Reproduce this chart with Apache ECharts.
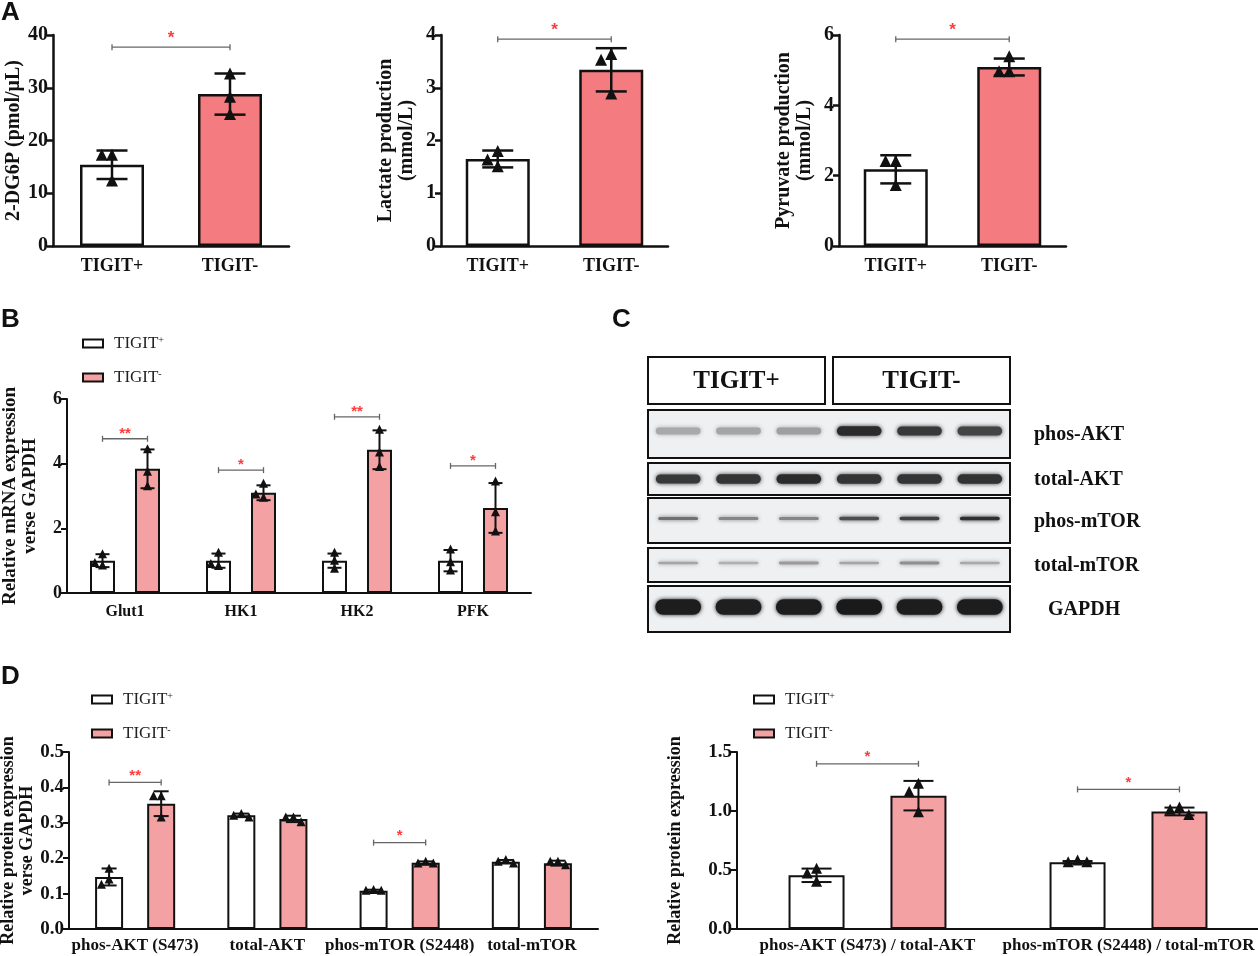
<!DOCTYPE html>
<html>
<head>
<meta charset="utf-8">
<title>TIGIT glycolysis</title>
<script src="https://cdn.jsdelivr.net/npm/echarts@6/dist/echarts.min.js"></script>
<style>
    html, body { margin: 0; padding: 0; background: #fff; }
    #chart { width: 1258px; height: 956px; }
</style>
</head>
<body>
<div id="chart"></div>
<script>
    // ---- data ----
    const groupsA = ['TIGIT+', 'TIGIT-'];
    const dg6pMean = [15.4, 28.8];
    const dg6pSd = [2.7, 3.9];
    const dg6pPts = [[17.2, 17.2, 12.3], [32.6, 28.2, 24.9]];
    const lactateMean = [1.65, 3.34];
    const lactateSd = [0.16, 0.41];
    const lactatePts = [[1.79, 1.63, 1.5], [3.63, 3.52, 2.88]];
    const pyruvateMean = [2.18, 5.09];
    const pyruvateSd = [0.4, 0.24];
    const pyruvatePts = [[2.4, 2.4, 1.72], [5.38, 4.95, 4.95]];
    const sigA = [[37.7, '*'], [3.92, '*'], [5.88, '*']];

    const genes = ['Glut1', 'HK1', 'HK2', 'PFK'];
    const mrnaPosMean = [1.0, 1.0, 1.0, 1.0];
    const mrnaPosSd = [0.2, 0.22, 0.22, 0.33];
    const mrnaPosPts = [[1.2, 0.85, 0.93], [1.25, 0.84, 0.9], [1.25, 0.75, 1.0], [1.35, 0.7, 0.95]];
    const mrnaNegMean = [3.84, 3.1, 4.43, 2.63];
    const mrnaNegSd = [0.6, 0.23, 0.6, 0.77];
    const mrnaNegPts = [[4.45, 3.75, 3.3], [3.38, 2.95, 3.05], [5.05, 3.9, 4.35], [3.45, 2.5, 1.9]];
    const sigB = [[0, 4.77, '**'], [1, 3.8, '*'], [2, 5.45, '**'], [3, 3.93, '*']];

    const blotLanes = ['1', '2', '3', '4', '5', '6'];
    const blotGroups = ['TIGIT+', 'TIGIT-'];
    const blotProteins = ['phos-AKT', 'total-AKT', 'phos-mTOR', 'total-mTOR', 'GAPDH'];
    const bandPhosAkt = [0.28, 0.3, 0.33, 0.88, 0.82, 0.76];
    const bandTotalAkt = [0.82, 0.84, 0.88, 0.84, 0.84, 0.85];
    const bandPhosMtor = [0.55, 0.45, 0.45, 0.72, 0.78, 0.86];
    const bandTotalMtor = [0.3, 0.25, 0.35, 0.3, 0.4, 0.28];
    const bandGapdh = [0.95, 0.94, 0.95, 0.96, 0.95, 0.95];

    const proteinsD = ['phos-AKT (S473)', 'total-AKT', 'phos-mTOR (S2448)', 'total-mTOR'];
    const protPosMean = [0.147, 0.321, 0.108, 0.19];
    const protPosSd = [0.024, 0.005, 0.003, 0.005];
    const protPosPts = [[0.17, 0.14, 0.125], [0.325, 0.32, 0.315], [0.11, 0.108, 0.108], [0.195, 0.19, 0.185]];
    const protNegMean = [0.354, 0.311, 0.187, 0.186];
    const protNegSd = [0.035, 0.009, 0.004, 0.007];
    const protNegPts = [[0.375, 0.375, 0.315], [0.315, 0.315, 0.302], [0.19, 0.185, 0.185], [0.19, 0.19, 0.18]];
    const sigD1 = [[0, 0.414, '**'], [2, 0.244, '*']];

    const ratiosD = ['phos-AKT (S473) / total-AKT', 'phos-mTOR (S2448) / total-mTOR'];
    const ratioPosMean = [0.455, 0.566];
    const ratioPosSd = [0.057, 0.01];
    const ratioPosPts = [[0.51, 0.47, 0.4], [0.58, 0.565, 0.565]];
    const ratioNegMean = [1.13, 0.996];
    const ratioNegSd = [0.125, 0.033];
    const ratioNegPts = [[1.23, 1.16, 0.99], [1.03, 1.01, 0.965]];
    const sigD2 = [[0, 1.40, '*'], [1, 1.183, '*']];

    // ---- styles ----
    const SERIF = '"Liberation Serif", "Times New Roman", serif';
    const SANS = '"Liberation Sans", Arial, sans-serif';
    const INK = '#111';
    const PINK_A = '#f47c80';
    const PINK_B = '#f4a1a3';
    const STAR = '#ff3b3b';

    const grids = [], xAxes = [], yAxes = [], series = [];

    // 误差线 + 三角散点
    function errRender(off, cfg) {
        return function (params, api) {
            const cat = api.value(0), m = api.value(1), sd = api.value(2);
            const x = api.coord([cat, m])[0] + off;
            const yT = api.coord([cat, m + sd])[1], yB = api.coord([cat, m - sd])[1];
            const cw = cfg.capW / 2, s = cfg.tri;
            const ls = { stroke: INK, lineWidth: cfg.lw };
            const kids = [
                { type: 'line', shape: { x1: x, y1: yT, x2: x, y2: yB }, style: ls },
                { type: 'line', shape: { x1: x - cw, y1: yT, x2: x + cw, y2: yT }, style: ls },
                { type: 'line', shape: { x1: x - cw, y1: yB, x2: x + cw, y2: yB }, style: ls }
            ];
            const placed = [];
            for (let j = 3; j < 6; j++) {
                const py = api.coord([cat, api.value(j)])[1];
                const cands = [0, -0.85 * s, 0.85 * s, -1.7 * s, 1.7 * s];
                let dx = 0;
                for (const c of cands) {
                    if (placed.every(p => Math.abs(p[0] - c) >= s * 0.8 || Math.abs(p[1] - py) >= s * 0.8)) { dx = c; break; }
                }
                placed.push([dx, py]);
                const px = x + dx;
                kids.push({
                    type: 'polygon',
                    shape: { points: [[px, py - s * 0.55], [px - s / 2, py + s * 0.45], [px + s / 2, py + s * 0.45]] },
                    style: { fill: INK }
                });
            }
            return { type: 'group', children: kids };
        };
    }

    // 显著性标记
    function sigRender(cfg, sig) {
        return function (params, api) {
            const item = sig[params.dataIndex];
            let x1, x2, y;
            if (cfg.between) {
                x1 = api.coord([0, item[0]])[0];
                x2 = api.coord([1, item[0]])[0];
                y = api.coord([0, item[0]])[1];
            } else {
                const c = api.coord([item[0], item[1]]);
                const off = cfg.bw * (1 + cfg.gap) / 2;
                x1 = c[0] - off; x2 = c[0] + off; y = c[1];
            }
            const label = cfg.between ? item[1] : item[2];
            const ls = { stroke: '#666', lineWidth: 1.3 };
            return {
                type: 'group', children: [
                    { type: 'line', shape: { x1: x1, y1: y, x2: x2, y2: y }, style: ls },
                    { type: 'line', shape: { x1: x1, y1: y - 3, x2: x1, y2: y + 3 }, style: ls },
                    { type: 'line', shape: { x1: x2, y1: y - 3, x2: x2, y2: y + 3 }, style: ls },
                    {
                        type: 'text', style: {
                            text: label, x: (x1 + x2) / 2, y: y - cfg.starDy, align: 'center', verticalAlign: 'middle',
                            font: 'bold ' + cfg.starSize + 'px ' + SANS, fill: STAR
                        }
                    }
                ]
            };
        };
    }

    function addPanel(cfg) {
        const gi = grids.length;
        grids.push({ left: cfg.left, top: cfg.top, width: cfg.width, height: cfg.height, outerBoundsMode: 'none' });
        xAxes.push({
            gridIndex: gi, type: 'category', data: cfg.cats,
            axisLine: { lineStyle: { color: INK, width: cfg.lw } },
            axisTick: { alignWithLabel: true, length: 6, lineStyle: { color: INK, width: cfg.lw } },
            axisLabel: { interval: 0, margin: cfg.xMargin, color: INK, fontFamily: SERIF, fontWeight: 'bold', fontSize: cfg.xFont }
        });
        yAxes.push({
            gridIndex: gi, type: 'value', min: 0, max: cfg.yMax, interval: cfg.yStep,
            axisLine: { show: true, lineStyle: { color: INK, width: cfg.lw } },
            axisTick: { show: true, length: 6, lineStyle: { color: INK, width: cfg.lw } },
            splitLine: { show: false },
            axisLabel: {
                margin: 5, color: INK, fontFamily: SERIF, fontWeight: 'bold', fontSize: cfg.yFont,
                formatter: v => cfg.yDec ? v.toFixed(cfg.yDec) : String(v)
            },
            name: cfg.yName, nameLocation: 'middle', nameGap: cfg.nameGap, nameRotate: 90,
            nameTextStyle: { color: INK, fontFamily: SERIF, fontWeight: 'bold', fontSize: cfg.nameFont, lineHeight: cfg.nameFont + 1 }
        });
        cfg.groups.forEach((g, k) => {
            const off = cfg.groups.length === 1 ? 0 : (k === 0 ? -1 : 1) * cfg.bw * (1 + cfg.gap) / 2;
            series.push({
                type: 'bar', name: g.name, xAxisIndex: gi, yAxisIndex: gi,
                barWidth: cfg.bw, barGap: (cfg.gap * 100) + '%', silent: true,
                itemStyle: { color: g.color, borderColor: INK, borderWidth: cfg.lw },
                data: g.mean.map((m, i) => g.colors ? { value: m, itemStyle: { color: g.colors[i] } } : m)
            });
            series.push({
                type: 'custom', xAxisIndex: gi, yAxisIndex: gi, z: 3, silent: true, clip: false,
                data: g.mean.map((m, i) => [i, m, g.sd[i]].concat(g.pts[i])),
                renderItem: errRender(off, cfg)
            });
        });
        series.push({
            type: 'custom', xAxisIndex: gi, yAxisIndex: gi, z: 3, silent: true, clip: false,
            data: cfg.sig.map(s => cfg.between ? [0, s[0]] : [s[0], s[1]]),
            renderItem: sigRender(cfg, cfg.sig)
        });
    }

    // ---- A ----
    const aStyle = {
        top: 35, height: 211, lw: 2.5, bw: 64, gap: 0, capW: 31, tri: 12, xFont: 18, xMargin: 11,
        yFont: 20, nameFont: 20, starSize: 17, starDy: 9, between: true
    };
    addPanel(Object.assign({}, aStyle, {
        left: 53, width: 236, cats: groupsA, yMax: 40, yStep: 10, yName: '2-DG6P (pmol/μL)', nameGap: 29,
        groups: [{ name: '2-DG6P', mean: dg6pMean, sd: dg6pSd, pts: dg6pPts, color: '#fff', colors: ['#fff', PINK_A] }],
        sig: [sigA[0]]
    }));
    addPanel(Object.assign({}, aStyle, {
        left: 441, width: 227, cats: groupsA, yMax: 4, yStep: 1, yName: 'Lactate production\n(mmol/L)', nameGap: 24,
        groups: [{ name: 'Lactate', mean: lactateMean, sd: lactateSd, pts: lactatePts, color: '#fff', colors: ['#fff', PINK_A] }],
        sig: [sigA[1]]
    }));
    addPanel(Object.assign({}, aStyle, {
        left: 839, width: 227, cats: groupsA, yMax: 6, yStep: 2, yName: 'Pyruvate production\n(mmol/L)', nameGap: 24,
        groups: [{ name: 'Pyruvate', mean: pyruvateMean, sd: pyruvateSd, pts: pyruvatePts, color: '#fff', colors: ['#fff', PINK_A] }],
        sig: [sigA[2]]
    }));

    // ---- B ----
    addPanel({
        left: 67, top: 399, width: 464, height: 194, lw: 2, bw: 25, gap: 0.8, capW: 14, tri: 9,
        xFont: 16, xMargin: 11, yFont: 18, nameFont: 19, starSize: 15, starDy: 5, between: false,
        cats: genes, yMax: 6, yStep: 2, yName: 'Relative mRNA expression\nverse GAPDH', nameGap: 27,
        groups: [
            { name: 'TIGIT+', mean: mrnaPosMean, sd: mrnaPosSd, pts: mrnaPosPts, color: '#fff' },
            { name: 'TIGIT-', mean: mrnaNegMean, sd: mrnaNegSd, pts: mrnaNegPts, color: PINK_B }
        ],
        sig: sigB
    });

    // ---- D ----
    addPanel({
        left: 69, top: 752, width: 529, height: 177, lw: 2, bw: 28, gap: 0.86, capW: 15, tri: 9,
        xFont: 17, xMargin: 8, yFont: 19, nameFont: 18, starSize: 15, starDy: 7, between: false,
        cats: proteinsD, yMax: 0.5, yStep: 0.1, yDec: 1, yName: 'Relative protein expression\nverse GAPDH', nameGap: 28,
        groups: [
            { name: 'TIGIT+', mean: protPosMean, sd: protPosSd, pts: protPosPts, color: '#fff' },
            { name: 'TIGIT-', mean: protNegMean, sd: protNegSd, pts: protNegPts, color: PINK_B }
        ],
        sig: sigD1
    });
    addPanel({
        left: 737, top: 752, width: 522, height: 177, lw: 2, bw: 56, gap: 0.82, capW: 30, tri: 11,
        xFont: 17, xMargin: 8, yFont: 19, nameFont: 18, starSize: 15, starDy: 7, between: false,
        cats: ratiosD, yMax: 1.5, yStep: 0.5, yDec: 1, yName: 'Relative protein expression', nameGap: 52,
        groups: [
            { name: 'TIGIT+', mean: ratioPosMean, sd: ratioPosSd, pts: ratioPosPts, color: '#fff' },
            { name: 'TIGIT-', mean: ratioNegMean, sd: ratioNegSd, pts: ratioNegPts, color: PINK_B }
        ],
        sig: sigD2
    });

    // ---- C: western blot ----
    const BLOT_HEAD = [0, 47];
    const BLOT_ROWS = [[53, 101], [106, 138], [141, 186], [191, 225], [229, 275]];
    const BAND_H = [10, 10, 4, 4, 16];
    const BAND_DY = [-3, 0, -2, -2, -2];
    const BAND_W = [0.74, 0.74, 0.66, 0.66, 0.76];
    const LABEL_DX = [0, 0, 0, 0, 14];
    const bandRows = [bandPhosAkt, bandTotalAkt, bandPhosMtor, bandTotalMtor, bandGapdh];

    const bi = grids.length;
    grids.push({ left: 648, top: 357, width: 362, height: 275, outerBoundsMode: 'none' });
    xAxes.push({ gridIndex: bi, type: 'category', data: blotLanes, show: false });
    yAxes.push({ gridIndex: bi, type: 'value', min: 0, max: 275, inverse: true, show: false });

    series.push({
        type: 'custom', xAxisIndex: bi, yAxisIndex: bi, silent: true, clip: false, z: 1,
        data: blotGroups.map((g, i) => [i]),
        renderItem: function (params, api) {
            const g = api.value(0), cs = params.coordSys;
            const half = cs.width / 2;
            const x0 = cs.x + g * half + (g ? 4 : 0);
            const y0 = api.coord([0, BLOT_HEAD[0]])[1], y1 = api.coord([0, BLOT_HEAD[1]])[1];
            return {
                type: 'group', children: [
                    { type: 'rect', shape: { x: x0, y: y0, width: half - 4, height: y1 - y0 }, style: { fill: '#fff', stroke: INK, lineWidth: 2 } },
                    { type: 'text', style: { text: blotGroups[g], x: x0 + (half - 4) / 2, y: (y0 + y1) / 2 + 1, align: 'center', verticalAlign: 'middle', font: 'bold 25px ' + SERIF, fill: INK } }
                ]
            };
        }
    });
    series.push({
        type: 'custom', xAxisIndex: bi, yAxisIndex: bi, silent: true, clip: false, z: 1,
        data: blotProteins.map((p, i) => [i]),
        renderItem: function (params, api) {
            const i = api.value(0), cs = params.coordSys;
            const y0 = api.coord([0, BLOT_ROWS[i][0]])[1], y1 = api.coord([0, BLOT_ROWS[i][1]])[1];
            return {
                type: 'group', children: [
                    { type: 'rect', shape: { x: cs.x, y: y0, width: cs.width, height: y1 - y0 }, style: { fill: '#eff0f2', stroke: INK, lineWidth: 2 } },
                    { type: 'text', style: { text: blotProteins[i], x: cs.x + cs.width + 24 + LABEL_DX[i], y: (y0 + y1) / 2 + 1, align: 'left', verticalAlign: 'middle', font: 'bold 20px ' + SERIF, fill: INK } }
                ]
            };
        }
    });
    const bandData = [];
    bandRows.forEach((row, r) => row.forEach((k, lane) => bandData.push([lane, r, k])));
    series.push({
        type: 'custom', xAxisIndex: bi, yAxisIndex: bi, silent: true, z: 2,
        data: bandData,
        renderItem: function (params, api) {
            const lane = api.value(0), r = api.value(1), k = api.value(2);
            const x = api.coord([lane, 0])[0];
            const w = api.size([1, 0])[0] * BAND_W[r];
            const span = BLOT_ROWS[r];
            const yc = api.coord([0, (span[0] + span[1]) / 2])[1] + BAND_DY[r];
            const h = BAND_H[r] * (0.55 + 0.45 * k);
            const gv = Math.round(228 - 210 * k);
            const col = 'rgb(' + gv + ',' + gv + ',' + gv + ')';
            return {
                type: 'rect', shape: { x: x - w / 2, y: yc - h / 2, width: w, height: h, r: h / 2 },
                style: { fill: col, shadowBlur: 4, shadowColor: col }
            };
        }
    });

    // ---- legends ----
    function legendAt(left, top) {
        return {
            left: left, top: top, orient: 'vertical', icon: 'rect', itemWidth: 20, itemHeight: 8, itemGap: 17,
            selectedMode: false, data: ['TIGIT+', 'TIGIT-'],
            itemStyle: { borderColor: INK, borderWidth: 2 },
            formatter: n => '{t|TIGIT}{s|' + (n.endsWith('+') ? '+' : '-') + '}',
            textStyle: {
                color: '#222', fontFamily: SERIF, fontSize: 17,
                rich: {
                    t: { fontFamily: SERIF, fontSize: 17, color: '#222', padding: [0, 0, 0, 6] },
                    s: { fontFamily: SERIF, fontSize: 10, color: '#222', verticalAlign: 'top', padding: [0, 0, 6, 0] }
                }
            }
        };
    }

    const letter = (t, x, y) => ({ type: 'text', left: x, top: y, style: { text: t, font: 'bold 26px ' + SANS, fill: INK } });

    const chart = echarts.init(document.getElementById('chart'));
    chart.setOption({
        animation: false,
        backgroundColor: '#fff',
        grid: grids,
        xAxis: xAxes,
        yAxis: yAxes,
        legend: [legendAt(77, 330), legendAt(86, 686), legendAt(748, 686)],
        graphic: [letter('A', 1, 0), letter('B', 1, 307), letter('C', 612, 307), letter('D', 1, 664)],
        series: series
    });
</script>
</body>
</html>
